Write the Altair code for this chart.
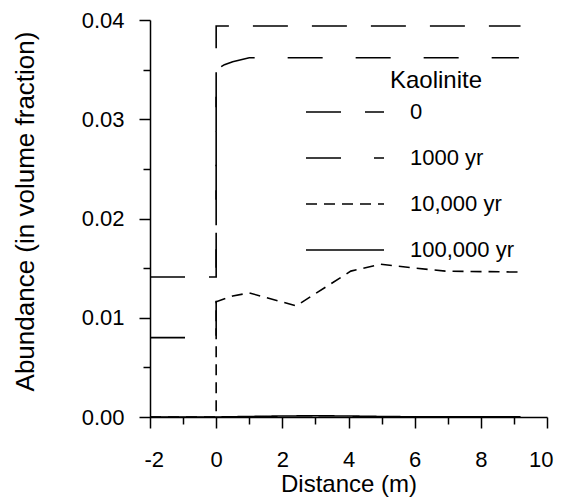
import altair as alt
import pandas as pd

series_names = ["0", "1000 yr", "10,000 yr", "100,000 yr"]
dash_patterns = [[35, 24], [35, 33], [11, 7], [1, 0]]

x_0 = [-2, 0, 0, 9.2]
y_0 = [0.0141, 0.0141, 0.0394, 0.0394]

x_1000 = [-2, 0, 0, 0.25, 0.5, 1.0, 9.15]
y_1000 = [0.0080, 0.0080, 0.0350, 0.0355, 0.0358, 0.0362, 0.0362]

x_10000 = [-2, 0, 0, 0.5, 1.0, 2.42, 4.07, 4.97, 6.0, 6.93, 9.2]
y_10000 = [0, 0, 0.0116, 0.0122, 0.0125, 0.0112, 0.0147, 0.0154, 0.0150, 0.0147, 0.0146]

x_100000 = [-2, 0, 1, 2, 3, 4, 5, 6, 9.2]
y_100000 = [0, 0, 0.00005, 0.0001, 0.00012, 0.0001, 0.00005, 0.00002, 0.00001]

x_major = [-2, 0, 2, 4, 6, 8, 10]
x_minor = [-1, 1, 3, 5, 7, 9]
y_major = [0.0, 0.01, 0.02, 0.03, 0.04]
y_minor = [0.005, 0.015, 0.025, 0.035]

legend_title = "Kaolinite"

rows = []
for name, xs, ys in zip(series_names, [x_0, x_1000, x_10000, x_100000],
                        [y_0, y_1000, y_10000, y_100000]):
    for i, (xv, yv) in enumerate(zip(xs, ys)):
        rows.append({"series": name, "idx": i, "x": xv, "y": yv})
df = pd.DataFrame(rows)

FONT = "Liberation Sans"
xscale = alt.Scale(domain=[-2, 10], nice=False, zero=False)
yscale = alt.Scale(domain=[0, 0.04], nice=False)

lines = alt.Chart(df).mark_line(color="black", strokeWidth=1.6).encode(
    x=alt.X("x:Q", scale=xscale,
            axis=alt.Axis(orient="bottom", values=x_major, title="Distance (m)",
                          tickSize=11, labelPadding=21, labelFontSize=22,
                          labelExpr="replace(datum.label, '\u2212', '-')",
                          labelFlush=True, labelFlushOffset=6,
                          titleFontSize=24, titleBaseline="alphabetic", titleY=74)),
    y=alt.Y("y:Q", scale=yscale,
            axis=alt.Axis(orient="left", values=y_major, format=".2f",
                          title="Abundance (in volume fraction)",
                          tickSize=11, labelPadding=15, labelFontSize=22,
                          titleFontSize=26, titleBaseline="alphabetic",
                          titleAngle=270, titleAlign="center",
                          titleX=-117, titleY=191)),
    strokeDash=alt.StrokeDash(
        "series:N",
        scale=alt.Scale(domain=series_names, range=dash_patterns),
        legend=alt.Legend(orient="none", legendX=155, legendY=69, title=None,
                          symbolType="stroke", symbolSize=6084,
                          symbolStrokeWidth=1.6, symbolStrokeColor="black",
                          labelFontSize=22, labelOffset=25, padding=0,
                          rowPadding=0, clipHeight=46)),
    order="idx:Q",
)

minor = alt.Chart(df).mark_point(opacity=0, size=1).encode(
    x=alt.X("x:Q", scale=xscale,
            axis=alt.Axis(orient="bottom", values=x_minor, tickSize=7,
                          labels=False, domain=False, title=None)),
    y=alt.Y("y:Q", scale=yscale,
            axis=alt.Axis(orient="left", values=y_minor, tickSize=7,
                          labels=False, domain=False, title=None)),
)

title_text = alt.Chart(pd.DataFrame({"t": [legend_title]})).mark_text(
    align="left", baseline="alphabetic", fontSize=24, font=FONT, color="black"
).encode(x=alt.value(240), y=alt.value(68), text="t:N")

chart = alt.layer(lines, minor, title_text).resolve_axis(
    x="independent", y="independent"
).properties(
    width=397, height=397,
    autosize=alt.AutoSizeParams(type="none"),
    padding={"left": 142, "top": 12, "right": 7, "bottom": 81},
).configure_view(stroke=None).configure_axis(
    grid=False, domainColor="black", domainWidth=1.5, tickColor="black",
    tickWidth=1.5, labelColor="black", titleColor="black",
    labelFont=FONT, titleFont=FONT, titleFontWeight="normal",
).configure_legend(labelFont=FONT, labelColor="black")

chart.save("out.html", embed_options={"renderer": "svg", "actions": False})
